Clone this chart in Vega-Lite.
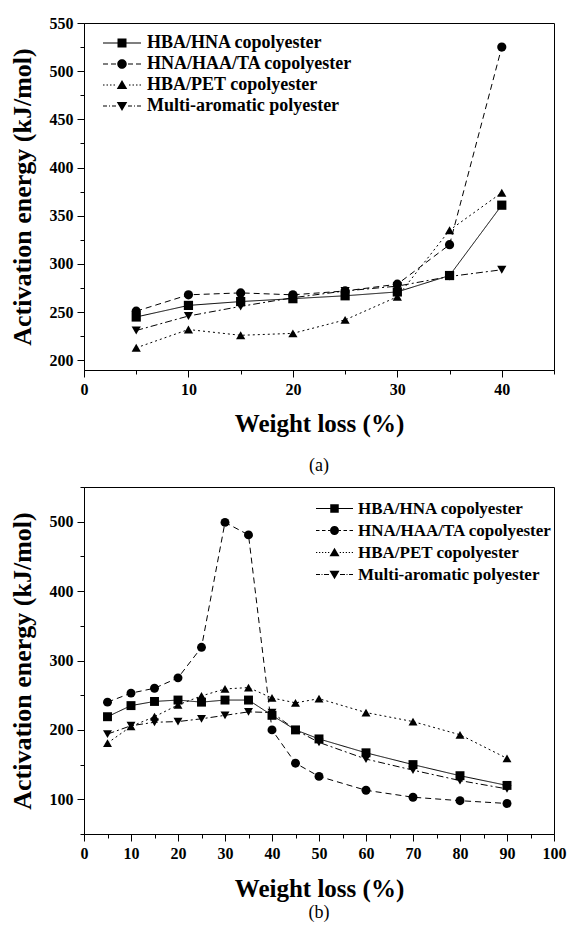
{
  "$schema": "https://vega.github.io/schema/vega-lite/v6.json",
  "background": "white",
  "padding": {"left": 8, "top": 14, "right": 6, "bottom": 4},
  "spacing": 2,
  "datasets": {
    "a": [
      {"series": "HBA/HNA copolyester", "x": 5, "y": 245},
      {"series": "HBA/HNA copolyester", "x": 10, "y": 257},
      {"series": "HBA/HNA copolyester", "x": 15, "y": 261},
      {"series": "HBA/HNA copolyester", "x": 20, "y": 264},
      {"series": "HBA/HNA copolyester", "x": 25, "y": 267},
      {"series": "HBA/HNA copolyester", "x": 30, "y": 271},
      {"series": "HBA/HNA copolyester", "x": 35, "y": 288},
      {"series": "HBA/HNA copolyester", "x": 40, "y": 361},
      {"series": "HNA/HAA/TA copolyester", "x": 5, "y": 251},
      {"series": "HNA/HAA/TA copolyester", "x": 10, "y": 268},
      {"series": "HNA/HAA/TA copolyester", "x": 15, "y": 270},
      {"series": "HNA/HAA/TA copolyester", "x": 20, "y": 268},
      {"series": "HNA/HAA/TA copolyester", "x": 25, "y": 272},
      {"series": "HNA/HAA/TA copolyester", "x": 30, "y": 279},
      {"series": "HNA/HAA/TA copolyester", "x": 35, "y": 320},
      {"series": "HNA/HAA/TA copolyester", "x": 40, "y": 525},
      {"series": "HBA/PET copolyester", "x": 5, "y": 213},
      {"series": "HBA/PET copolyester", "x": 10, "y": 232},
      {"series": "HBA/PET copolyester", "x": 15, "y": 226},
      {"series": "HBA/PET copolyester", "x": 20, "y": 228},
      {"series": "HBA/PET copolyester", "x": 25, "y": 242},
      {"series": "HBA/PET copolyester", "x": 30, "y": 266},
      {"series": "HBA/PET copolyester", "x": 35, "y": 335},
      {"series": "HBA/PET copolyester", "x": 40, "y": 374},
      {"series": "Multi-aromatic polyester", "x": 5, "y": 231},
      {"series": "Multi-aromatic polyester", "x": 10, "y": 246},
      {"series": "Multi-aromatic polyester", "x": 15, "y": 256},
      {"series": "Multi-aromatic polyester", "x": 20, "y": 265},
      {"series": "Multi-aromatic polyester", "x": 25, "y": 272},
      {"series": "Multi-aromatic polyester", "x": 30, "y": 277},
      {"series": "Multi-aromatic polyester", "x": 35, "y": 287},
      {"series": "Multi-aromatic polyester", "x": 40, "y": 294}
    ],
    "b": [
      {"series": "HBA/HNA copolyester", "x": 5, "y": 219},
      {"series": "HBA/HNA copolyester", "x": 10, "y": 235},
      {"series": "HBA/HNA copolyester", "x": 15, "y": 241},
      {"series": "HBA/HNA copolyester", "x": 20, "y": 243},
      {"series": "HBA/HNA copolyester", "x": 25, "y": 240},
      {"series": "HBA/HNA copolyester", "x": 30, "y": 243},
      {"series": "HBA/HNA copolyester", "x": 35, "y": 243},
      {"series": "HBA/HNA copolyester", "x": 40, "y": 221},
      {"series": "HBA/HNA copolyester", "x": 45, "y": 200},
      {"series": "HBA/HNA copolyester", "x": 50, "y": 187},
      {"series": "HBA/HNA copolyester", "x": 60, "y": 167},
      {"series": "HBA/HNA copolyester", "x": 70, "y": 150},
      {"series": "HBA/HNA copolyester", "x": 80, "y": 134},
      {"series": "HBA/HNA copolyester", "x": 90, "y": 120},
      {"series": "HNA/HAA/TA copolyester", "x": 5, "y": 240},
      {"series": "HNA/HAA/TA copolyester", "x": 10, "y": 253},
      {"series": "HNA/HAA/TA copolyester", "x": 15, "y": 260},
      {"series": "HNA/HAA/TA copolyester", "x": 20, "y": 275},
      {"series": "HNA/HAA/TA copolyester", "x": 25, "y": 319},
      {"series": "HNA/HAA/TA copolyester", "x": 30, "y": 499},
      {"series": "HNA/HAA/TA copolyester", "x": 35, "y": 481},
      {"series": "HNA/HAA/TA copolyester", "x": 40, "y": 200},
      {"series": "HNA/HAA/TA copolyester", "x": 45, "y": 152},
      {"series": "HNA/HAA/TA copolyester", "x": 50, "y": 133},
      {"series": "HNA/HAA/TA copolyester", "x": 60, "y": 113},
      {"series": "HNA/HAA/TA copolyester", "x": 70, "y": 103},
      {"series": "HNA/HAA/TA copolyester", "x": 80, "y": 98},
      {"series": "HNA/HAA/TA copolyester", "x": 90, "y": 94},
      {"series": "HBA/PET copolyester", "x": 5, "y": 181},
      {"series": "HBA/PET copolyester", "x": 10, "y": 205},
      {"series": "HBA/PET copolyester", "x": 15, "y": 219},
      {"series": "HBA/PET copolyester", "x": 20, "y": 236},
      {"series": "HBA/PET copolyester", "x": 25, "y": 249},
      {"series": "HBA/PET copolyester", "x": 30, "y": 259},
      {"series": "HBA/PET copolyester", "x": 35, "y": 261},
      {"series": "HBA/PET copolyester", "x": 40, "y": 246},
      {"series": "HBA/PET copolyester", "x": 45, "y": 239},
      {"series": "HBA/PET copolyester", "x": 50, "y": 245},
      {"series": "HBA/PET copolyester", "x": 60, "y": 225},
      {"series": "HBA/PET copolyester", "x": 70, "y": 212},
      {"series": "HBA/PET copolyester", "x": 80, "y": 193},
      {"series": "HBA/PET copolyester", "x": 90, "y": 159},
      {"series": "Multi-aromatic polyester", "x": 5, "y": 194},
      {"series": "Multi-aromatic polyester", "x": 10, "y": 206},
      {"series": "Multi-aromatic polyester", "x": 15, "y": 211},
      {"series": "Multi-aromatic polyester", "x": 20, "y": 212},
      {"series": "Multi-aromatic polyester", "x": 25, "y": 216},
      {"series": "Multi-aromatic polyester", "x": 30, "y": 221},
      {"series": "Multi-aromatic polyester", "x": 35, "y": 226},
      {"series": "Multi-aromatic polyester", "x": 40, "y": 225},
      {"series": "Multi-aromatic polyester", "x": 45, "y": 200},
      {"series": "Multi-aromatic polyester", "x": 50, "y": 182},
      {"series": "Multi-aromatic polyester", "x": 60, "y": 158},
      {"series": "Multi-aromatic polyester", "x": 70, "y": 142},
      {"series": "Multi-aromatic polyester", "x": 80, "y": 127},
      {"series": "Multi-aromatic polyester", "x": 90, "y": 115}
    ]
  },
  "vconcat": [
    {
      "width": 470,
      "height": 347,
      "title": {"text": "(a)", "orient": "bottom", "offset": 21},
      "data": {"name": "a"},
      "encoding": {
        "x": {
          "field": "x", "type": "quantitative",
          "scale": {"domain": [0, 45], "nice": false, "zero": false},
          "axis": {
            "title": "Weight loss (%)", "titleFontSize": 25, "titlePadding": 14,
            "values": [0, 5, 10, 15, 20, 25, 30, 35, 40, 45],
            "labelExpr": "datum.value % 10 === 0 ? datum.label : ''",
            "tickSize": {"condition": {"test": "datum.value % 10 === 0", "value": 7}, "value": 4},
            "labelPadding": 4, "labelFlush": false, "labelOverlap": false
          }
        },
        "y": {
          "field": "y", "type": "quantitative",
          "scale": {"domain": [190, 550], "nice": false, "zero": false},
          "axis": {
            "title": "Activation energy (kJ/mol)", "titleFontSize": 26, "titlePadding": 14,
            "values": [200, 225, 250, 275, 300, 325, 350, 375, 400, 425, 450, 475, 500, 525, 550],
            "labelExpr": "datum.value % 50 === 0 ? datum.label : ''",
            "tickSize": {"condition": {"test": "datum.value % 50 === 0", "value": 7}, "value": 4},
            "labelPadding": 4, "labelFlush": false, "labelOverlap": false
          }
        }
      },
      "layer": [
        {
          "mark": {"type": "line", "color": "black", "strokeWidth": 1},
          "encoding": {
            "strokeDash": {
              "field": "series", "type": "nominal",
              "scale": {
                "domain": ["HBA/HNA copolyester", "HNA/HAA/TA copolyester", "HBA/PET copolyester", "Multi-aromatic polyester"],
                "range": [[1, 0], [6, 4], [2, 3], [7, 3, 2, 3]]
              },
              "legend": null
            }
          }
        },
        {
          "mark": {"type": "point", "filled": true, "color": "black", "opacity": 1, "size": 85},
          "encoding": {
            "shape": {
              "field": "series", "type": "nominal",
              "scale": {
                "domain": ["HBA/HNA copolyester", "HNA/HAA/TA copolyester", "HBA/PET copolyester", "Multi-aromatic polyester"],
                "range": ["square", "circle", "triangle-up", "triangle-down"]
              },
              "legend": null
            }
          }
        },
        {
          "mark": {"type": "point", "filled": true, "color": "black", "opacity": 0, "size": 100},
          "encoding": {
            "shape": {
              "field": "series", "type": "nominal",
              "scale": {
                "domain": ["HBA/HNA copolyester", "HNA/HAA/TA copolyester", "HBA/PET copolyester", "Multi-aromatic polyester"],
                "range": [
                  "M-3.8,-0.1H-0.9V0.1H-3.8ZM0.9,-0.1H3.8V0.1H0.9ZM-0.9,-0.9H0.9V0.9H-0.9Z",
                  "M-3.8,-0.1H-2.8V0.1H-3.8ZM-2.2,-0.1H-1.2V0.1H-2.2ZM1.2,-0.1H2.2V0.1H1.2ZM2.8,-0.1H3.8V0.1H2.8ZM-0.95,0A0.95,0.95 0 1,1 0.95,0A0.95,0.95 0 1,1 -0.95,0Z",
                  "M-3.8,-0.1H-3.5V0.1H-3.8ZM-3.1,-0.1H-2.8V0.1H-3.1ZM-2.4,-0.1H-2.1V0.1H-2.4ZM-1.7,-0.1H-1.4V0.1H-1.7ZM1.4,-0.1H1.7V0.1H1.4ZM2.1,-0.1H2.4V0.1H2.1ZM2.8,-0.1H3.1V0.1H2.8ZM3.5,-0.1H3.8V0.1H3.5ZM0,-1L1.05,0.8H-1.05Z",
                  "M-3.8,-0.1H-3V0.1H-3.8ZM-2.6,-0.1H-2.4V0.1H-2.6ZM-2,-0.1H-1.2V0.1H-2ZM1.2,-0.1H2V0.1H1.2ZM2.4,-0.1H2.6V0.1H2.4ZM3,-0.1H3.8V0.1H3ZM0,1L1.05,-0.8H-1.05Z"
                ]
              },
              "legend": {
                "orient": "none", "legendX": 29, "legendY": 11, "title": null,
                "padding": 0, "rowPadding": 3, "symbolSize": 100, "labelOffset": 16,
                "labelFont": "Liberation Serif", "labelFontWeight": "bold", "labelFontSize": 18, "labelColor": "black",
                "labelLimit": 400,
                "encode": {
                  "symbols": {
                    "fill": {"value": "black"}, "opacity": {"value": 1}
                  }
                }
              }
            }
          }
        }
      ],
      "resolve": {"scale": {"shape": "independent"}}
    },
    {
      "width": 470,
      "height": 347,
      "title": {"text": "(b)", "orient": "bottom", "offset": 3},
      "data": {"name": "b"},
      "encoding": {
        "x": {
          "field": "x", "type": "quantitative",
          "scale": {"domain": [0, 100], "nice": false, "zero": false},
          "axis": {
            "title": "Weight loss (%)", "titleFontSize": 25, "titlePadding": 15,
            "values": [0, 5, 10, 15, 20, 25, 30, 35, 40, 45, 50, 55, 60, 65, 70, 75, 80, 85, 90, 95, 100],
            "labelExpr": "datum.value % 10 === 0 ? datum.label : ''",
            "tickSize": {"condition": {"test": "datum.value % 10 === 0", "value": 7}, "value": 4},
            "labelPadding": 4, "labelFlush": false, "labelOverlap": false
          }
        },
        "y": {
          "field": "y", "type": "quantitative",
          "scale": {"domain": [50, 550], "nice": false, "zero": false},
          "axis": {
            "title": "Activation energy (kJ/mol)", "titleFontSize": 26, "titlePadding": 14,
            "values": [50, 100, 150, 200, 250, 300, 350, 400, 450, 500, 550],
            "labelExpr": "datum.value % 100 === 0 ? datum.label : ''",
            "tickSize": {"condition": {"test": "datum.value % 100 === 0", "value": 7}, "value": 4},
            "labelPadding": 4, "labelFlush": false, "labelOverlap": false
          }
        }
      },
      "layer": [
        {
          "mark": {"type": "line", "color": "black", "strokeWidth": 1},
          "encoding": {
            "strokeDash": {
              "field": "series", "type": "nominal",
              "scale": {
                "domain": ["HBA/HNA copolyester", "HNA/HAA/TA copolyester", "HBA/PET copolyester", "Multi-aromatic polyester"],
                "range": [[1, 0], [4, 3], [1.5, 2.5], [6, 2, 2, 2]]
              },
              "legend": null
            }
          }
        },
        {
          "mark": {"type": "point", "filled": true, "color": "black", "opacity": 1, "size": 80},
          "encoding": {
            "shape": {
              "field": "series", "type": "nominal",
              "scale": {
                "domain": ["HBA/HNA copolyester", "HNA/HAA/TA copolyester", "HBA/PET copolyester", "Multi-aromatic polyester"],
                "range": ["square", "circle", "triangle-up", "triangle-down"]
              },
              "legend": null
            }
          }
        },
        {
          "mark": {"type": "point", "filled": true, "color": "black", "opacity": 0, "size": 100},
          "encoding": {
            "shape": {
              "field": "series", "type": "nominal",
              "scale": {
                "domain": ["HBA/HNA copolyester", "HNA/HAA/TA copolyester", "HBA/PET copolyester", "Multi-aromatic polyester"],
                "range": [
                  "M-3.7,-0.1H-0.85V0.1H-3.7ZM0.85,-0.1H3.7V0.1H0.85ZM-0.85,-0.85H0.85V0.85H-0.85Z",
                  "M-3.7,-0.1H-3V0.1H-3.7ZM-2.5,-0.1H-1.8V0.1H-2.5ZM-1.3,-0.1H-0.9V0.1H-1.3ZM0.9,-0.1H1.3V0.1H0.9ZM1.8,-0.1H2.5V0.1H1.8ZM3,-0.1H3.7V0.1H3ZM-0.9,0A0.9,0.9 0 1,1 0.9,0A0.9,0.9 0 1,1 -0.9,0Z",
                  "M-3.7,-0.08H-3.45V0.08H-3.7ZM-3.1,-0.08H-2.85V0.08H-3.1ZM-2.5,-0.08H-2.25V0.08H-2.5ZM-1.9,-0.08H-1.65V0.08H-1.9ZM-1.3,-0.08H-1.05V0.08H-1.3ZM1.05,-0.08H1.3V0.08H1.05ZM1.65,-0.08H1.9V0.08H1.65ZM2.25,-0.08H2.5V0.08H2.25ZM2.85,-0.08H3.1V0.08H2.85ZM3.45,-0.08H3.7V0.08H3.45ZM0,-0.95L1,0.75H-1Z",
                  "M-3.7,-0.1H-2.9V0.1H-3.7ZM-2.6,-0.1H-2.4V0.1H-2.6ZM-2.1,-0.1H-1.1V0.1H-2.1ZM1.1,-0.1H2.1V0.1H1.1ZM2.4,-0.1H2.6V0.1H2.4ZM2.9,-0.1H3.7V0.1H2.9ZM0,0.95L1,-0.75H-1Z"
                ]
              },
              "legend": {
                "orient": "none", "legendX": 242, "legendY": 13, "title": null,
                "padding": 0, "rowPadding": 4, "symbolSize": 100, "labelOffset": 15,
                "labelFont": "Liberation Serif", "labelFontWeight": "bold", "labelFontSize": 17, "labelColor": "black",
                "labelLimit": 400,
                "encode": {
                  "symbols": {
                    "fill": {"value": "black"}, "opacity": {"value": 1}
                  }
                }
              }
            }
          }
        }
      ],
      "resolve": {"scale": {"shape": "independent"}}
    }
  ],
  "config": {
    "view": {"stroke": "black", "strokeWidth": 1},
    "axis": {
      "grid": false, "domainColor": "black", "domainWidth": 1, "tickColor": "black", "tickWidth": 1,
      "labelColor": "black", "titleColor": "black",
      "labelFont": "Liberation Serif", "labelFontWeight": "bold", "labelFontSize": 16,
      "titleFont": "Liberation Serif", "titleFontWeight": "bold"
    },
    "title": {"font": "Liberation Serif", "fontWeight": "normal", "fontSize": 18, "color": "black"}
  }
}
